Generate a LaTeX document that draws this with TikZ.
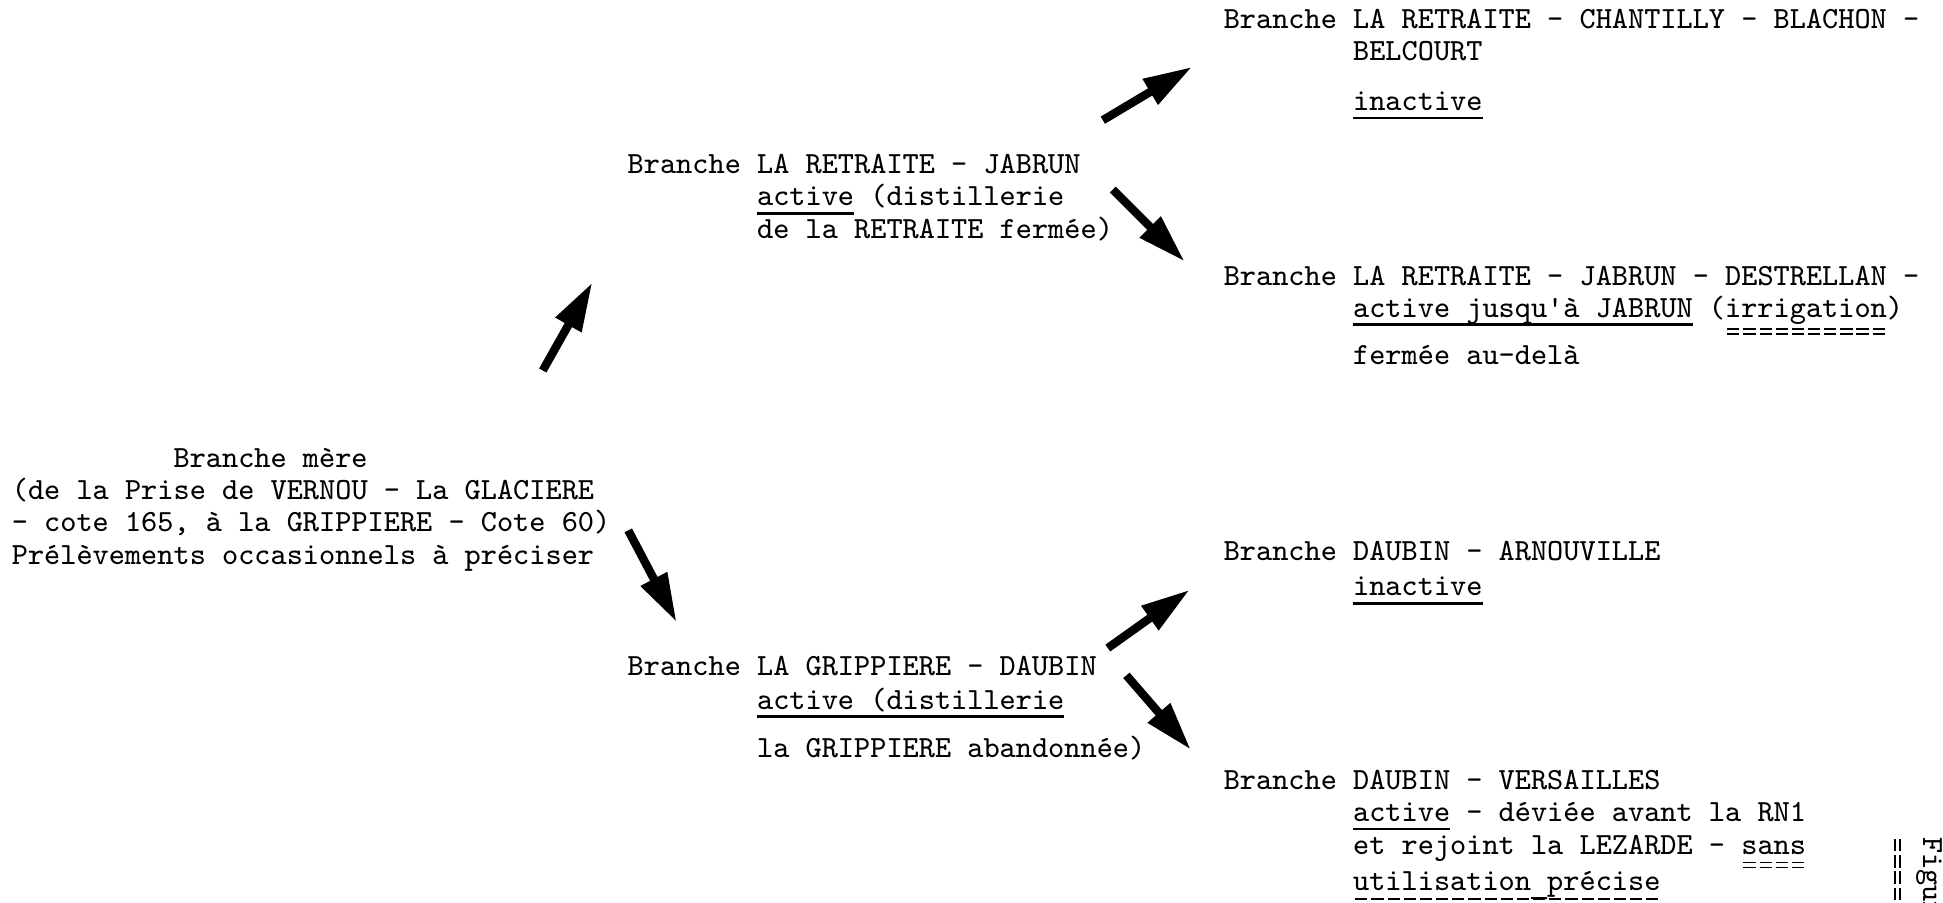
\documentclass[tikz,border=0pt]{standalone}
\usepackage{tikz}
\usetikzlibrary{arrows.meta}
\usetikzlibrary{positioning}

% soulignement simple et double (machine a ecrire)
\newcommand\souligne[1]{\setbox0=\hbox{#1}\rlap{\vrule height -1.7pt depth 2.5pt width \wd0}\box0\relax}
\newcommand\tirets[1]{\hbox to \wd0{\xleaders\hbox{\kern.55pt\vrule width 3.5pt height -#1 depth \dimexpr#1+0.45pt\relax\kern.55pt}\hfill}}
\newcommand\souligned[2][3.2pt]{\setbox0=\hbox{#2}\rlap{\tirets{#1}}\rlap{\tirets{\dimexpr#1+1.4pt\relax}}\box0\relax}
\newcommand\cols[1]{\hspace*{#1\fontcharwd\font`0}}

\tikzset{
	bloc/.style={
		anchor=base west,
		inner sep=0pt,
		font=\ttfamily\fontsize{8.84}{9.28}\selectfont},
	fleche/.style={
		line width=2.4pt,
		-{Triangle[length=14pt,width=8pt]}}
}

\begin{document}
\begin{tikzpicture}[x=0.0125cm,y=-0.0125cm]
			\useasboundingbox (0,0) rectangle (1568,728);
			\node[bloc] (mere) at (9,377) {\begin{tabular}[t]{@{}l@{}}\cols{10}Branche mère\\ (de la Prise de VERNOU - La GLACIERE\\ - cote 165, à la GRIPPIERE - Cote 60)\\ Prélèvements occasionnels à préciser\end{tabular}};
			\node[bloc] (jabrun) at (506,140) {Branche \begin{tabular}[t]{@{}l@{}}LA RETRAITE - JABRUN\\ \souligne{active} (distillerie\\ de la RETRAITE fermée)\end{tabular}};
			\node[bloc] (grippiere) at (506,545) {Branche \begin{tabular}[t]{@{}l@{}}LA GRIPPIERE - DAUBIN\\[0.5pt] \souligne{active (distillerie}\\[4.6pt] la GRIPPIERE abandonnée)\end{tabular}};
			\node[bloc] (chantilly) at (987,23) {Branche \begin{tabular}[t]{@{}l@{}}LA RETRAITE - CHANTILLY - BLACHON -\\ BELCOURT\\[5pt] \souligne{inactive}\end{tabular}};
			\node[bloc] (destrellan) at (987,230) {Branche \begin{tabular}[t]{@{}l@{}}LA RETRAITE - JABRUN - DESTRELLAN -\\ \souligne{active jusqu'à JABRUN} (\souligned{irrigation})\\[4.3pt] fermée au-delà\end{tabular}};
			\node[bloc] (arnouville) at (987,452) {Branche \begin{tabular}[t]{@{}l@{}}DAUBIN - ARNOUVILLE\\[1pt] \souligne{inactive}\end{tabular}};
			\node[bloc] (versailles) at (987,637) {Branche \begin{tabular}[t]{@{}l@{}}DAUBIN - VERSAILLES\\ \souligne{active} - déviée avant la RN1\\ et rejoint la LEZARDE - \souligned[2.2pt]{sans}\\ \souligned[2.2pt]{utilisation\souligne{ }précise}\end{tabular}};
			\node[bloc, rotate=-90] (figure) at (1552,675) {\souligned[6.4pt]{Figure}};
			% fleches
			\coordinate (m1) at (438,299);
			\coordinate (j1) at (478,228);
			\coordinate (m2) at (507,428);
			\coordinate (g1) at (546,502);
			\coordinate (j2) at (890,97);
			\coordinate (c1) at (962,54);
			\coordinate (j3) at (898,153);
			\coordinate (d1) at (956,211);
			\coordinate (g2) at (894,523);
			\coordinate (a1) at (960,476);
			\coordinate (g3) at (909,545);
			\coordinate (v1) at (961,605);
			\draw[fleche] (m1) -- (j1);
			\draw[fleche] (m2) -- (g1);
			\draw[fleche] (j2) -- (c1);
			\draw[fleche] (j3) -- (d1);
			\draw[fleche] (g2) -- (a1);
			\draw[fleche] (g3) -- (v1);
		\end{tikzpicture}
\end{document}
